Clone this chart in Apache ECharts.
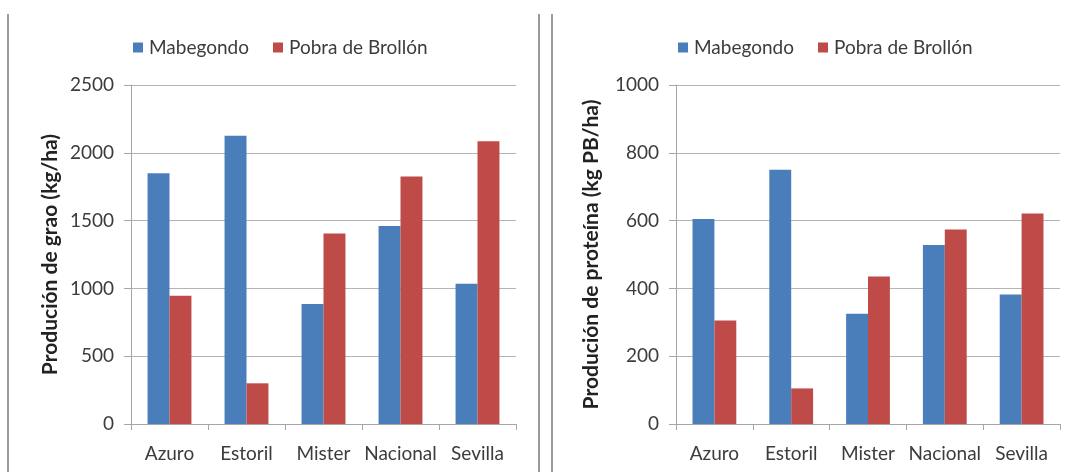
<!DOCTYPE html>
<html>
<head>
<meta charset="utf-8">
<style>
  html, body { margin: 0; padding: 0; background: #ffffff; }
  #chart { width: 1069px; height: 472px; }
</style>
<script src="https://cdn.jsdelivr.net/npm/echarts@6/dist/echarts.min.js"></script>
</head>
<body>
<div id="chart"></div>
<script>
// Varieties and the two trial sites
const varieties = ['Azuro', 'Estoril', 'Mister', 'Nacional', 'Sevilla'];
const siteNames = ['Mabegondo', 'Pobra de Brollón'];

// Grain yield (kg/ha)
const grainMabegondo = [1850, 2125, 885, 1460, 1035];
const grainPobra = [945, 300, 1405, 1825, 2085];

// Protein yield (kg PB/ha)
const proteinMabegondo = [605, 750, 325, 528, 382];
const proteinPobra = [305, 105, 435, 574, 621];

const grainTicks = { min: 0, max: 2500, interval: 500 };
const proteinTicks = { min: 0, max: 1000, interval: 200 };

const BLUE = '#4a7ebb';
const RED = '#be4b48';
const FONT = 'Lato, "Open Sans", sans-serif';
const AXIS_GRAY = '#a6a6a6';
const TEXT_GRAY = '#3c3c3c';

const chart = echarts.init(document.getElementById('chart'), null, { renderer: 'canvas' });

function yAxisFor(idx, ticks, name, gap) {
  return {
    gridIndex: idx,
    type: 'value',
    min: ticks.min,
    max: ticks.max,
    interval: ticks.interval,
    name: name,
    nameLocation: 'middle',
    nameGap: gap,
    nameTextStyle: { fontFamily: FONT, fontWeight: 'bold', fontSize: 21, color: '#222' },
    axisLine: { show: true, lineStyle: { color: AXIS_GRAY, width: 1 } },
    axisTick: { show: true, length: 7, lineStyle: { color: AXIS_GRAY } },
    axisLabel: {
      fontFamily: FONT, fontSize: 19, color: TEXT_GRAY, margin: 17,
      formatter: v => String(v)
    },
    splitLine: { show: true, lineStyle: { color: '#b4b4b4', width: 1 } }
  };
}

function xAxisFor(idx) {
  return {
    gridIndex: idx,
    type: 'category',
    data: varieties,
    axisLine: { show: true, lineStyle: { color: AXIS_GRAY, width: 1 } },
    axisTick: { show: true, length: 6, lineStyle: { color: AXIS_GRAY } },
    axisLabel: { fontFamily: FONT, fontSize: 19, color: TEXT_GRAY, margin: 20, interval: 0 }
  };
}

function barSeries(name, data, color, idx) {
  return {
    name: name,
    type: 'bar',
    xAxisIndex: idx,
    yAxisIndex: idx,
    data: data,
    barGap: '0%',
    barCategoryGap: '43%',
    itemStyle: { color: color },
    emphasis: { disabled: true }
  };
}

const legendBase = {
  top: 33,
  itemWidth: 10,
  itemHeight: 10,
  itemGap: 24,
  icon: 'rect',
  textStyle: { fontFamily: FONT, fontSize: 19, color: TEXT_GRAY, padding: [0, 0, 0, 1] },
  data: siteNames
};

chart.setOption({
  animation: false,
  backgroundColor: '#ffffff',
  legend: [
    Object.assign({}, legendBase, { left: 128 }),
    Object.assign({}, legendBase, { left: 673 })
  ],
  grid: [
    { left: 131, right: 553, top: 85, bottom: 48 },
    { left: 676, right: 9, top: 85, bottom: 48 }
  ],
  xAxis: [xAxisFor(0), xAxisFor(1)],
  yAxis: [
    yAxisFor(0, grainTicks, 'Produción de grao (kg/ha)', 70),
    yAxisFor(1, proteinTicks, 'Produción de proteína (kg PB/ha)', 74)
  ],
  series: [
    barSeries(siteNames[0], grainMabegondo, BLUE, 0),
    barSeries(siteNames[1], grainPobra, RED, 0),
    barSeries(siteNames[0], proteinMabegondo, BLUE, 1),
    barSeries(siteNames[1], proteinPobra, RED, 1)
  ],
  // Panel frame lines
  graphic: [
    { type: 'line', shape: { x1: 8, y1: 14, x2: 8, y2: 472 }, style: { stroke: '#9a9a9a', lineWidth: 2 } },
    { type: 'line', shape: { x1: 539, y1: 14, x2: 539, y2: 472 }, style: { stroke: '#9a9a9a', lineWidth: 2 } },
    { type: 'line', shape: { x1: 552, y1: 14, x2: 552, y2: 472 }, style: { stroke: '#9a9a9a', lineWidth: 2 } }
  ]
});
</script>
</body>
</html>
